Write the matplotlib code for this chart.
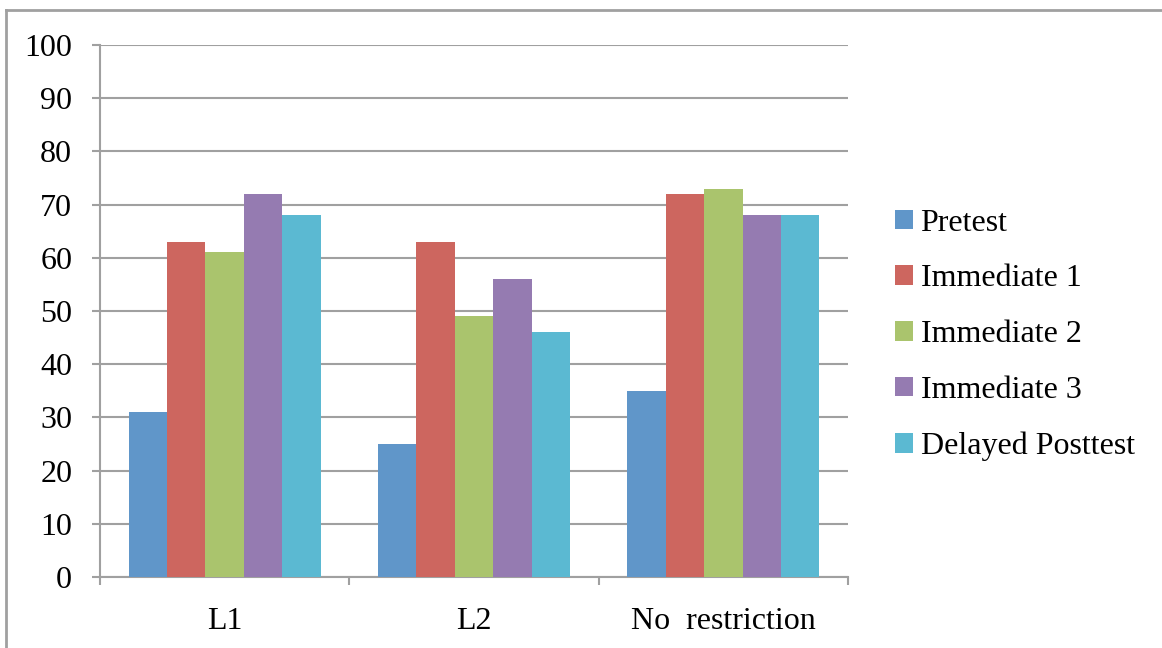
import matplotlib.pyplot as plt
import numpy as np
from matplotlib.lines import Line2D

groups = ['L1', 'L2', 'No  restriction']
series = ['Pretest', 'Immediate 1', 'Immediate 2', 'Immediate 3', 'Delayed Posttest']
pretest = [31, 25, 35]
immediate1 = [63, 63, 72]
immediate2 = [61, 49, 73]
immediate3 = [72, 56, 68]
delayed = [68, 46, 68]
values = [pretest, immediate1, immediate2, immediate3, delayed]
colors = ['#6096C9', '#CD665F', '#AAC46D', '#957BB1', '#5BB9D2']

plt.rcParams['font.family'] = ['Liberation Serif', 'DejaVu Serif']

fig = plt.figure(figsize=(11.62, 6.48), dpi=100)
ax = fig.add_axes([100 / 1162, 71 / 648, 748 / 1162, 532 / 648])

x = np.arange(len(groups))
w = 1 / 6.5
for i, (name, vals) in enumerate(zip(series, values)):
    ax.bar(x + (i - 2) * w, vals, width=w, color=colors[i], label=name,
           linewidth=0, zorder=3)

ax.set_xlim(-0.5, 2.5)
ax.set_ylim(0, 100)
ax.set_yticks(range(0, 101, 10))
ax.yaxis.grid(True, color='#a0a0a0', linewidth=1.5, zorder=0)
ax.set_axisbelow(True)

ax.set_xticks(x)
ax.set_xticklabels(groups)
ax.set_xticks([-0.5, 0.5, 1.5, 2.5], minor=True)
ax.tick_params(axis='x', which='major', length=0, pad=21.5, labelsize=23)
ax.tick_params(axis='x', which='minor', length=6, width=1.5, color='#a0a0a0')
ax.tick_params(axis='y', length=6, width=1.5, color='#a0a0a0', pad=14, labelsize=23)

for s in ['top', 'right']:
    ax.spines[s].set_visible(False)
for s in ['left', 'bottom']:
    ax.spines[s].set_color('#a0a0a0')
    ax.spines[s].set_linewidth(1.5)

ax.legend(loc='center left', bbox_to_anchor=(879 / 1162, 1 - 335 / 648),
          bbox_transform=fig.transFigure, frameon=False, fontsize=23,
          handlelength=0.55, handleheight=0.55, handletextpad=0.25,
          labelspacing=0.84, borderpad=0)

# outer border (left and top edges visible)
fig.add_artist(Line2D([6 / 1162, 6 / 1162], [0, 1 - 9.5 / 648],
                      transform=fig.transFigure, color='#a0a0a0', linewidth=2))
fig.add_artist(Line2D([6 / 1162, 1], [1 - 9.5 / 648, 1 - 9.5 / 648],
                      transform=fig.transFigure, color='#a0a0a0', linewidth=2))

fig.savefig('out.png', dpi=100)
